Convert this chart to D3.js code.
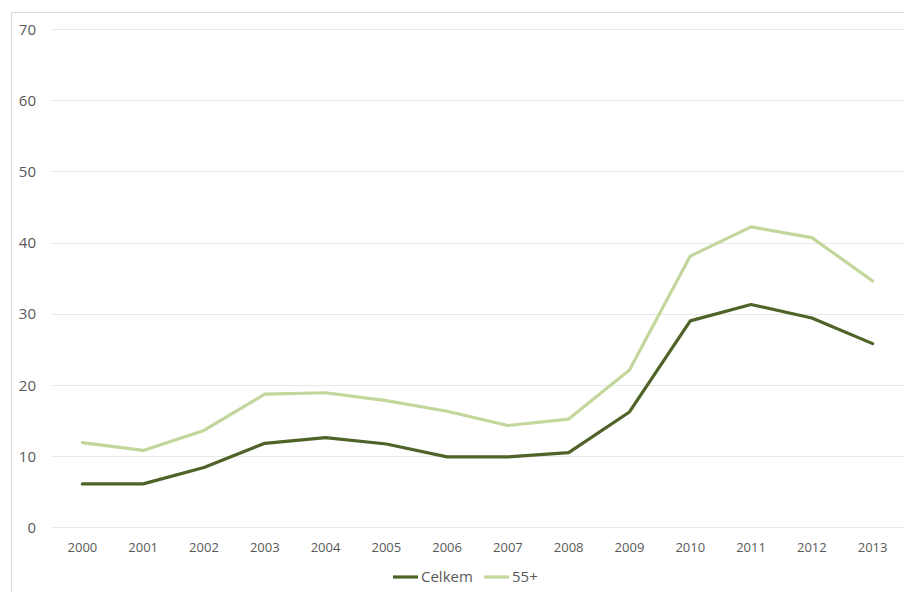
<!DOCTYPE html>
<html>
<head>
<meta charset="utf-8">
<script src="https://cdn.jsdelivr.net/npm/d3@7"></script>
<style>
  html, body { margin: 0; padding: 0; background: #fff; }
  svg { display: block; }
  text { font-family: "Open Sans", "Noto Sans", sans-serif; fill: #595959; }
</style>
</head>
<body>
<svg id="chart" width="904" height="592"></svg>
<script>
// Years on the category axis
const years = ["2000","2001","2002","2003","2004","2005","2006","2007","2008","2009","2010","2011","2012","2013"];
// Series values (%)
const celkem = [6.1, 6.1, 8.4, 11.8, 12.6, 11.7, 9.9, 9.9, 10.5, 16.2, 29.0, 31.3, 29.4, 25.8];
const age55 = [11.9, 10.8, 13.6, 18.7, 18.9, 17.8, 16.3, 14.3, 15.2, 22.1, 38.1, 42.2, 40.7, 34.6];
// Value axis ticks
const yTicks = [0, 10, 20, 30, 40, 50, 60, 70];
const seriesNames = ["Celkem", "55+"];
const seriesColors = ["#4f6228", "#c3d69b"];

const svg = d3.select("#chart");
const W = 904, H = 592;

// outer chart frame (continues past the visible edge)
svg.append("rect")
  .attr("x", 11.5).attr("y", 12.5)
  .attr("width", W + 20).attr("height", H + 20)
  .attr("fill", "#fff").attr("stroke", "#d9d9d9").attr("stroke-width", 1);

const plot = { left: 52, right: 903, top: 29, bottom: 527.3 };

const x = d3.scaleBand().domain(years).range([plot.left, plot.right]);
const y = d3.scaleLinear().domain([0, 70]).range([plot.bottom, plot.top]);

// horizontal gridlines
svg.append("g").selectAll("line").data(yTicks).join("line")
  .attr("x1", plot.left).attr("x2", W)
  .attr("y1", d => Math.round(y(d)) + 0.5).attr("y2", d => Math.round(y(d)) + 0.5)
  .attr("stroke", "#e8e8e8").attr("stroke-width", 1);

// value axis labels
const yAxis = d3.axisLeft(y).tickValues(yTicks).tickSize(0).tickPadding(0);
const gy = svg.append("g").attr("transform", "translate(36,0)").call(yAxis);
gy.select(".domain").remove();
gy.selectAll("text").attr("font-size", 15).attr("dy", "0.35em")
  .style("font-family", "\"Open Sans\", sans-serif").attr("fill", "#595959");

// category axis labels
const xAxis = d3.axisBottom(x).tickSize(0).tickPadding(0);
const gx = svg.append("g").attr("transform", `translate(0,${plot.bottom})`).call(xAxis);
gx.select(".domain").remove();
gx.selectAll("text").attr("font-size", 13).attr("y", 20).attr("dy", "0.35em")
  .style("font-family", "\"Open Sans\", sans-serif").attr("fill", "#595959");

// lines, lighter series underneath
const line = d3.line()
  .x((d, i) => x(years[i]) + x.bandwidth() / 2)
  .y(d => y(d));

[[age55, seriesColors[1]], [celkem, seriesColors[0]]].forEach(([vals, color]) => {
  svg.append("path")
    .datum(vals)
    .attr("d", line)
    .attr("fill", "none")
    .attr("stroke", color)
    .attr("stroke-width", 3.2)
    .attr("stroke-linejoin", "round")
    .attr("stroke-linecap", "round");
});

// legend
const legendItems = [
  { name: seriesNames[0], color: seriesColors[0], x: 393 },
  { name: seriesNames[1], color: seriesColors[1], x: 484 }
];
const lg = svg.append("g").selectAll("g").data(legendItems).join("g")
  .attr("transform", d => `translate(${d.x},577)`);
lg.append("line").attr("x1", 0).attr("x2", 25).attr("y1", 0).attr("y2", 0)
  .attr("stroke", d => d.color).attr("stroke-width", 3.2);
lg.append("text").attr("x", 28).attr("dy", "0.35em").attr("font-size", 15)
  .text(d => d.name);
</script>
</body>
</html>
